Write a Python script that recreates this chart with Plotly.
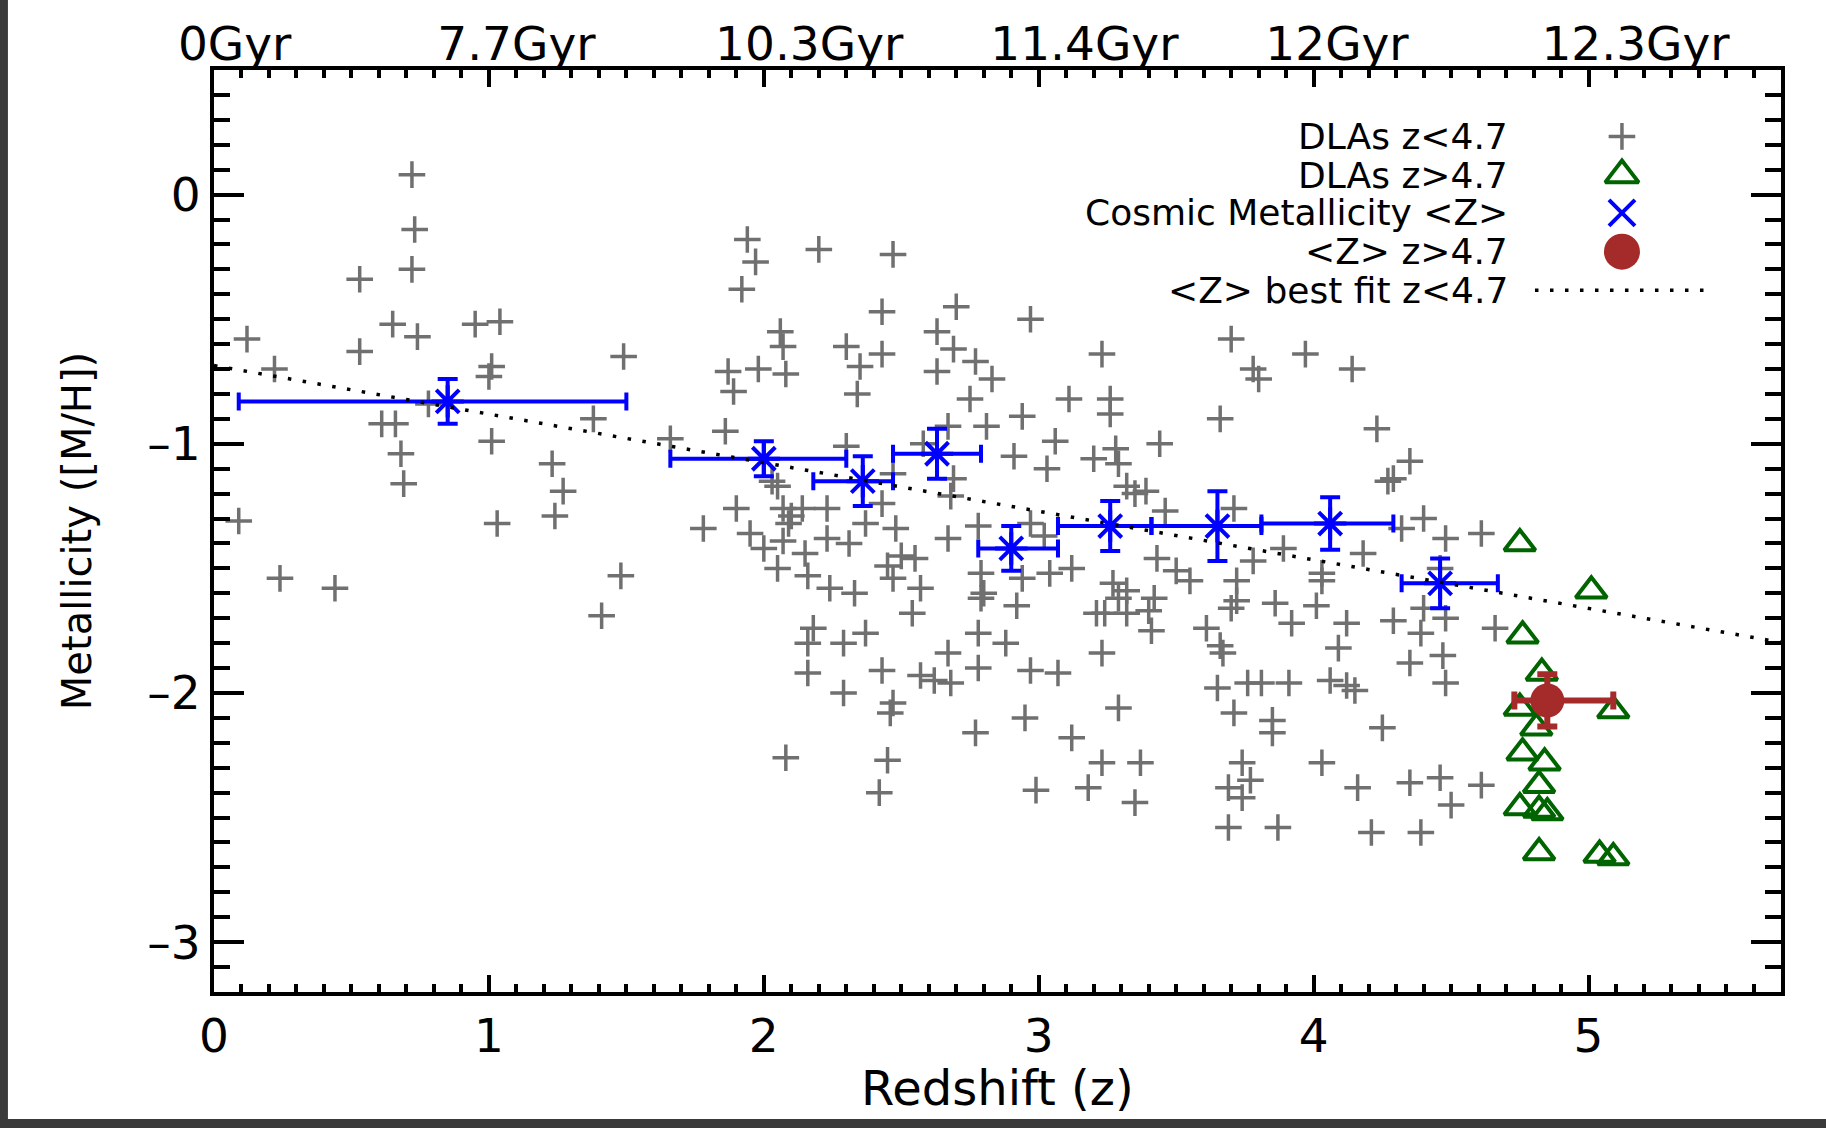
import plotly.graph_objects as go

# ---------------- data ----------------
dla_low_z = [0.72, 0.73, 0.72, 0.53, 0.65, 0.74, 0.95, 1.04, 0.12, 0.53, 0.22, 1.01, 1.00,
             0.78, 0.61, 0.66, 0.68, 0.69, 0.09, 0.24, 0.44, 1.01, 1.03, 1.23, 1.27, 1.24, 1.38, 1.41,
             1.49, 1.94, 1.97, 1.92, 2.20, 2.47, 2.43, 2.70, 2.06, 2.07, 2.63, 2.69, 2.77, 2.30, 2.43,
             2.35, 1.87, 1.98, 2.08, 2.63, 2.97, 3.23, 3.70, 3.97, 4.14, 3.78, 3.80, 2.83,
             1.89, 2.34, 2.75, 1.86, 1.66, 2.30, 2.67, 2.81, 2.58, 2.47, 2.69, 2.68, 2.03, 2.05,
             1.90, 2.07, 2.14, 2.23, 2.10, 2.43, 1.78, 1.95, 2.09, 2.37, 2.48, 2.23, 2.07, 2.31,
             2.00, 2.15, 2.67, 2.78, 2.05, 2.16, 1.48, 2.45, 2.50, 2.55, 2.47, 2.24, 2.33, 2.57,
             2.79, 2.79, 2.80, 2.54, 2.18, 2.16, 2.29, 2.37, 2.78, 2.67, 2.16, 2.43, 2.57, 2.62,
             2.68, 2.78, 2.29, 2.47, 2.46, 2.77, 2.08, 2.45, 2.42,
             3.11, 3.26, 3.26, 2.94, 3.66, 4.23, 3.06, 3.44, 3.28, 2.91, 3.20, 3.29, 3.03, 3.32,
             3.39, 3.35, 3.46, 3.71, 2.97, 3.02, 3.89, 4.18, 3.43, 3.78, 3.50, 4.03, 3.12, 3.04,
             2.94, 3.55, 4.03, 3.27, 3.72, 3.32, 3.42, 3.29, 3.72, 3.86, 4.01, 3.70, 2.92,
             3.21, 3.24, 3.32, 3.40, 3.92, 4.12, 3.61, 3.41, 2.88, 3.66, 3.67, 3.23, 4.09,
             2.97, 3.07, 3.65, 3.76, 3.81, 3.91, 4.06, 4.12, 3.29, 2.95, 3.12, 3.23, 3.37, 2.99,
             3.18, 3.35, 4.15, 3.71, 3.85, 3.85, 3.74, 4.03, 3.77, 3.69, 3.74, 4.16, 3.69, 3.87,
             4.21, 4.35, 4.27, 4.29, 4.40, 4.32, 4.48, 4.61, 4.46, 4.29, 4.40, 4.48, 4.39, 4.66,
             4.35, 4.47, 4.48, 4.25, 4.35, 4.46, 4.61, 4.50, 4.39]
dla_low_m = [0.08, -0.14, -0.30, -0.34, -0.52, -0.57, -0.52, -0.51, -0.58, -0.63, -0.70, -0.69, -0.73,
             -0.84, -0.92, -0.92, -1.04, -1.16, -1.31, -1.54, -1.58, -0.99, -1.32, -1.08, -1.19, -1.29, -0.90, -1.69,
             -0.65, -0.18, -0.27, -0.38, -0.22, -0.24, -0.47, -0.45, -0.55, -0.61, -0.55, -0.62, -0.67, -0.61, -0.64,
             -0.69, -0.71, -0.70, -0.72, -0.71, -0.50, -0.64, -0.58, -0.64, -0.70, -0.70, -0.74, -0.74,
             -0.79, -0.80, -0.82, -0.95, -0.98, -1.01, -0.93, -0.93, -1.00, -1.12, -1.14, -1.21, -1.15, -1.17,
             -1.26, -1.26, -1.26, -1.26, -1.29, -1.24, -1.34, -1.36, -1.32, -1.32, -1.34, -1.38, -1.39, -1.40,
             -1.42, -1.44, -1.38, -1.33, -1.50, -1.53, -1.53, -1.49, -1.45, -1.46, -1.54, -1.58, -1.60, -1.58,
             -1.52, -1.62, -1.60, -1.68, -1.74, -1.80, -1.80, -1.76, -1.76, -1.84, -1.92, -1.91, -1.93, -1.95,
             -1.96, -1.90, -2.00, -2.04, -2.08, -2.16, -2.26, -2.27, -2.40,
             -0.82, -0.82, -0.88, -0.89, -0.90, -0.94, -0.99, -1.00, -1.02, -1.05, -1.06, -1.08, -1.10, -1.17,
             -1.19, -1.20, -1.27, -1.26, -1.32, -1.37, -1.42, -1.44, -1.46, -1.47, -1.51, -1.52, -1.50, -1.52,
             -1.54, -1.55, -1.55, -1.56, -1.55, -1.59, -1.62, -1.62, -1.63, -1.64, -1.65, -1.66, -1.65,
             -1.68, -1.68, -1.68, -1.67, -1.72, -1.72, -1.74, -1.75, -1.80, -1.81, -1.84, -1.84, -1.82,
             -1.91, -1.92, -1.98, -1.96, -1.96, -1.96, -1.95, -1.97, -2.06, -2.10, -2.18, -2.28, -2.28, -2.39,
             -2.38, -2.44, -1.99, -2.08, -2.11, -2.16, -2.28, -2.28, -2.35, -2.38, -2.42, -2.38, -2.54, -2.54,
             -2.56, -1.07, -1.15, -1.14, -1.30, -1.34, -1.38, -1.36, -1.50, -1.71, -1.66, -1.70, -1.76, -1.74,
             -1.88, -1.85, -1.96, -2.14, -2.36, -2.34, -2.37, -2.45, -2.56]

dla_high_z = [4.75, 5.01, 4.76, 4.83, 4.75, 5.09, 4.81, 4.76, 4.84, 4.82, 4.75, 4.82, 4.85, 4.82, 5.04, 5.09]
dla_high_m = [-1.40, -1.59, -1.77, -1.92, -2.06, -2.07, -2.14, -2.24, -2.28, -2.37, -2.46, -2.47, -2.48,
              -2.64, -2.65, -2.66]

cosmic_z = [0.85, 2.00, 2.36, 2.63, 2.90, 3.26, 3.65, 4.06, 4.46]
cosmic_m = [-0.83, -1.06, -1.15, -1.04, -1.42, -1.33, -1.33, -1.32, -1.56]
cosmic_z_lo = [0.09, 1.66, 2.18, 2.47, 2.78, 3.07, 3.41, 3.81, 4.32]
cosmic_z_hi = [1.50, 2.30, 2.47, 2.79, 3.07, 3.41, 3.81, 4.29, 4.67]
cosmic_m_err = [0.09, 0.07, 0.10, 0.10, 0.09, 0.10, 0.14, 0.105, 0.10]

hiz_z = [4.85]
hiz_m = [-2.03]
hiz_z_lo = [4.73]
hiz_z_hi = [5.09]
hiz_m_err = [0.105]

fit_z = [0.0, 5.7]
fit_m = [-0.686, -1.797]

x_range = [0, 5.7]
y_range = [-3.2, 0.5]
y_tickvals = [0, -1, -2, -3]
y_ticktext = ["0", "\u20131", "\u20132", "\u20133"]
top_label_z = [0.075, 1.10, 2.165, 3.166, 4.085, 5.171]
top_labels = ["0Gyr", "7.7Gyr", "10.3Gyr", "11.4Gyr", "12Gyr", "12.3Gyr"]

x_title = "Redshift (z)"
y_title = "Metallicity ([M/H])"
legend_labels = ["DLAs z&lt;4.7", "DLAs z&gt;4.7", "Cosmic Metallicity &lt;Z&gt;",
                 "&lt;Z&gt; z&gt;4.7", "&lt;Z&gt; best fit z&lt;4.7"]

# ---------------- styles ----------------
FONT = "DejaVu Sans"
GRAY = "#707070"
GREEN = "#006400"
BLUE = "#0000FF"
BROWN = "#A52A2A"
FRAME = "#3a3a3a"

fig = go.Figure()

fig.add_trace(go.Scatter(
    x=dla_low_z, y=dla_low_m, mode="markers",
    marker=dict(symbol="cross-thin-open", size=19, color=GRAY, line=dict(color=GRAY, width=3.5)),
    showlegend=False, hoverinfo="skip"))

fig.add_trace(go.Scatter(
    x=dla_high_z, y=dla_high_m, mode="markers",
    marker=dict(symbol="triangle-up-open", size=27, color=GREEN, line=dict(color=GREEN, width=4)),
    showlegend=False, hoverinfo="skip"))

fig.add_trace(go.Scatter(
    x=cosmic_z, y=cosmic_m, mode="markers",
    marker=dict(symbol="asterisk-open", size=27, color=BLUE, line=dict(color=BLUE, width=4)),
    error_x=dict(type="data", symmetric=False,
                 array=[h - z for h, z in zip(cosmic_z_hi, cosmic_z)],
                 arrayminus=[z - l for l, z in zip(cosmic_z_lo, cosmic_z)],
                 color=BLUE, thickness=4, width=9),
    error_y=dict(type="data", array=cosmic_m_err, color=BLUE, thickness=4, width=10),
    showlegend=False, hoverinfo="skip"))

fig.add_trace(go.Scatter(
    x=hiz_z, y=hiz_m, mode="markers",
    marker=dict(symbol="circle", size=34, color=BROWN),
    error_x=dict(type="data", symmetric=False,
                 array=[h - z for h, z in zip(hiz_z_hi, hiz_z)],
                 arrayminus=[z - l for l, z in zip(hiz_z_lo, hiz_z)],
                 color=BROWN, thickness=6, width=9),
    error_y=dict(type="data", array=hiz_m_err, color=BROWN, thickness=6, width=10),
    showlegend=False, hoverinfo="skip"))

fig.add_trace(go.Scatter(
    x=fit_z, y=fit_m, mode="lines",
    line=dict(color="black", width=3.5, dash="3.5px,11.5px"),
    showlegend=False, hoverinfo="skip"))

# invisible trace to activate the top axis
fig.add_trace(go.Scatter(
    x=fit_z, y=fit_m, mode="lines", xaxis="x2", yaxis="y",
    line=dict(color="rgba(0,0,0,0)", width=0), showlegend=False, hoverinfo="skip"))

# ---------------- manual legend (text left, symbol right) ----------------
leg_rows_y = [0.928, 0.886, 0.845, 0.803, 0.761]
leg_text_x = 0.8265
leg_sym_x = 0.8985
fig.add_trace(go.Scatter(x=[leg_sym_x], y=[leg_rows_y[0]], xaxis="x3", yaxis="y3", mode="markers",
                         marker=dict(symbol="cross-thin-open", size=19, color=GRAY,
                                     line=dict(color=GRAY, width=3.5)),
                         showlegend=False, hoverinfo="skip"))
fig.add_trace(go.Scatter(x=[leg_sym_x], y=[leg_rows_y[1]], xaxis="x3", yaxis="y3", mode="markers",
                         marker=dict(symbol="triangle-up-open", size=29, color=GREEN,
                                     line=dict(color=GREEN, width=4)),
                         showlegend=False, hoverinfo="skip"))
fig.add_trace(go.Scatter(x=[leg_sym_x], y=[leg_rows_y[2]], xaxis="x3", yaxis="y3", mode="markers",
                         marker=dict(symbol="x-thin-open", size=26, color=BLUE,
                                     line=dict(color=BLUE, width=4)),
                         showlegend=False, hoverinfo="skip"))
fig.add_trace(go.Scatter(x=[leg_sym_x], y=[leg_rows_y[3]], xaxis="x3", yaxis="y3", mode="markers",
                         marker=dict(symbol="circle", size=36, color=BROWN),
                         showlegend=False, hoverinfo="skip"))
fig.add_trace(go.Scatter(x=[0.843, 0.953], y=[leg_rows_y[4], leg_rows_y[4]], xaxis="x3", yaxis="y3",
                         mode="lines", line=dict(color="black", width=3.5, dash="3.5px,11.5px"),
                         showlegend=False, hoverinfo="skip"))

annotations = []
for lab, yy in zip(legend_labels, leg_rows_y):
    annotations.append(dict(x=leg_text_x, y=yy, xref="paper", yref="paper", text=lab,
                            showarrow=False, xanchor="right", yanchor="middle", borderpad=0,
                            font=dict(family=FONT, size=36, color="black")))
# x-axis title placed as a text just below the tick labels
annotations.append(dict(x=0.5, y=-0.104, xref="paper", yref="paper", text=x_title,
                        showarrow=False, xanchor="center", yanchor="middle", borderpad=0,
                        font=dict(family=FONT, size=48, color="black")))

# dark frame of the screenshot (left and bottom strips): white page over a dark paper
shapes = [dict(type="rect", xref="paper", yref="paper", layer="below",
               x0=-0.1315, x1=1.03, y0=-0.1377, y1=1.08,
               fillcolor="white", line=dict(width=0))]

axis_common = dict(showline=True, linecolor="black", linewidth=4, mirror="ticks",
                   ticks="inside", tickcolor="black", tickwidth=4,
                   showgrid=False, zeroline=False,
                   tickfont=dict(family=FONT, size=47, color="black"))

fig.update_layout(
    width=1826, height=1128,
    margin=dict(l=214, r=45, t=70, b=136),
    paper_bgcolor=FRAME, plot_bgcolor="white",
    showlegend=False,
    annotations=annotations,
    shapes=shapes,
    xaxis=dict(range=x_range, tick0=0, dtick=1, ticklen=17,
               minor=dict(ticks="inside", dtick=0.1, ticklen=8, tickwidth=4, tickcolor="black"),
               **axis_common),
    yaxis=dict(range=y_range, tickvals=y_tickvals, ticktext=y_ticktext, ticklen=30,
               minor=dict(ticks="inside", dtick=0.1, ticklen=16, tickwidth=4, tickcolor="black"),
               title=dict(text=y_title, font=dict(family=FONT, size=40, color="black"), standoff=44),
               **axis_common),
    xaxis2=dict(overlaying="x", side="top", anchor="y", range=x_range,
                tickvals=top_label_z, ticktext=top_labels, ticks="", showline=False,
                showgrid=False, zeroline=False,
                tickfont=dict(family=FONT, size=47, color="black")),
    xaxis3=dict(overlaying="x", anchor="y3", range=[0, 1], visible=False),
    yaxis3=dict(overlaying="y", anchor="x3", range=[0, 1], visible=False),
)

fig.write_html("out.html")
